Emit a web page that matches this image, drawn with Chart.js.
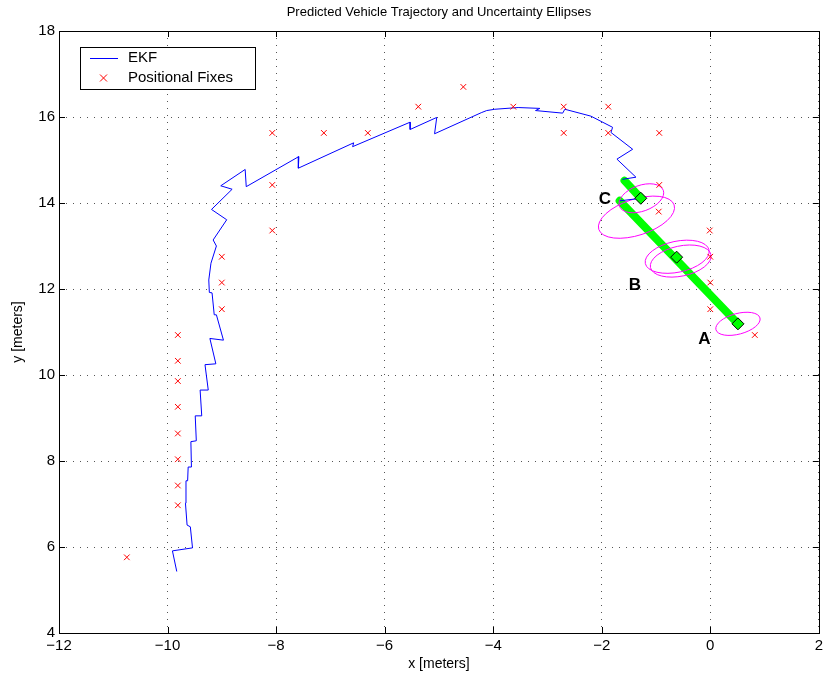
<!DOCTYPE html>
<html lang="en">
<head>
    <meta charset="UTF-8">
    <title>Predicted Vehicle Trajectory and Uncertainty Ellipses</title>
    <style>
        body {
            margin: 0;
            background: #fff;
        }
        #wrap {
            width: 827px;
            height: 682px;
        }
    </style>
    <script src="https://cdn.jsdelivr.net/npm/chart.js"></script>
</head>
<body>

<div id="wrap"><canvas id="trajChart"></canvas></div>

<script>
    // EKF track
    const ekfX = [-9.83, -9.91, -9.54, -9.58, -9.64, -9.67, -9.66, -9.63, -9.62, -9.56,
        -9.57, -9.47, -9.49, -9.37, -9.40, -9.25, -9.31, -9.11, -9.22, -8.97,
        -9.10, -9.14, -9.18, -9.23, -9.24, -9.20, -9.10, -9.16, -8.91, -9.19,
        -8.81, -9.02, -8.57, -8.55, -7.58, -7.59, -6.57, -6.59, -5.53, -5.53,
        -5.04, -5.08, -4.22, -4.12, -3.97, -3.54, -3.14, -3.22, -2.72, -2.68,
        -2.20, -1.80, -1.83, -1.43, -1.72, -1.37, -1.62];
    const ekfY = [5.43, 5.91, 5.98, 6.47, 6.51, 7.02, 7.54, 7.54, 7.86, 7.86,
        8.45, 8.47, 9.05, 9.05, 9.65, 9.65, 10.24, 10.26, 10.85, 10.81,
        11.40, 11.40, 11.91, 11.92, 12.21, 12.60, 13.00, 13.14, 13.61, 13.85,
        14.32, 14.40, 14.78, 14.38, 15.08, 14.81, 15.40, 15.31, 15.88, 15.71,
        15.99, 15.61, 16.10, 16.15, 16.18, 16.22, 16.20, 16.15, 16.09, 16.18,
        16.02, 15.76, 15.64, 15.25, 15.02, 14.60, 14.55];

    // positional fixes
    const fixX = [-10.75, -9.81, -9.81, -9.81, -9.81, -9.81, -9.81, -9.81, -9.81,
        -9.00, -9.00, -9.00, -8.07, -8.07, -8.07, -7.12, -6.31, -5.38, -4.55,
        -3.63, -2.70, -2.70, -1.88, -1.88, -0.94, -0.94, -0.95, -0.01, 0.00,
        0.00, 0.00, 0.82];
    const fixY = [5.76, 6.97, 7.43, 8.04, 8.64, 9.26, 9.86, 10.33, 10.93,
        11.53, 12.15, 12.75, 13.36, 14.42, 15.63, 15.63, 15.63, 16.24, 16.70,
        16.24, 16.24, 15.63, 16.24, 15.63, 15.63, 14.42, 13.80, 13.36, 12.75,
        12.15, 11.53, 10.93];

    // predicted path (green) and the prediction points A, B, C
    const predX = [-1.67, 0.51];
    const predY = [14.05, 11.19];
    const predShortX = [-1.58, -1.28];
    const predShortY = [14.52, 14.11];
    const linkX = [-1.67, -1.28];
    const linkY = [14.05, 14.11];
    const markNames = ['A', 'B', 'C'];
    const markX = [0.51, -0.62, -1.28];
    const markY = [11.19, 12.74, 14.11];
    const markLabelX = [-0.11, -1.39, -1.94];
    const markLabelY = [10.84, 12.09, 14.09];

    // uncertainty ellipses: centre, semi axes (x units / y units), tilt in degrees
    const ellCx = [0.51, -0.61, -0.545, -1.27, -1.36];
    const ellCy = [11.19, 12.75, 12.65, 14.11, 13.67];
    const ellRx = [0.42, 0.60, 0.57, 0.43, 0.73];
    const ellRy = [0.24, 0.36, 0.35, 0.30, 0.42];
    const ellTilt = [-15, -12, -12, -20, -18];

    const xTicks = [-12, -10, -8, -6, -4, -2, 0, 2];
    const yTicks = [4, 6, 8, 10, 12, 14, 16, 18];

    const toPts = (xs, ys) => xs.map((x, i) => ({x: x, y: ys[i]}));
    const minus = v => (v < 0 ? '\u2212' + Math.abs(v) : String(v));
    const FONT = "'Liberation Sans', Arial, sans-serif";

    // ellipses go in right after the green prediction line
    const ellipsePlugin = {
        id: 'ellipses',
        afterDatasetDraw(chart, args) {
            if (args.meta.label !== 'pred') return;
            const ctx = chart.ctx, xs = chart.scales.x, ys = chart.scales.y;
            const pxX = xs.getPixelForValue(1) - xs.getPixelForValue(0);
            const pxY = ys.getPixelForValue(0) - ys.getPixelForValue(1);
            ctx.save();
            ctx.strokeStyle = '#ff00ff';
            ctx.lineWidth = 1;
            for (let i = 0; i < ellCx.length; i++) {
                ctx.beginPath();
                ctx.ellipse(xs.getPixelForValue(ellCx[i]), ys.getPixelForValue(ellCy[i]),
                    ellRx[i] * pxX, ellRy[i] * pxY, ellTilt[i] * Math.PI / 180, 0, Math.PI * 2);
                ctx.stroke();
            }
            ctx.restore();
        }
    };

    // matlab style frame, inward ticks, title, point labels and legend
    const framePlugin = {
        id: 'frame',
        afterDraw(chart) {
            const ctx = chart.ctx, a = chart.chartArea;
            const xs = chart.scales.x, ys = chart.scales.y;
            ctx.save();
            ctx.strokeStyle = '#000';
            ctx.lineWidth = 1;
            ctx.beginPath();
            xTicks.forEach(v => {
                const p = Math.round(xs.getPixelForValue(v)) + 0.5;
                ctx.moveTo(p, a.bottom); ctx.lineTo(p, a.bottom - 6);
                ctx.moveTo(p, a.top); ctx.lineTo(p, a.top + 6);
            });
            yTicks.forEach(v => {
                const p = Math.round(ys.getPixelForValue(v)) + 0.5;
                ctx.moveTo(a.left, p); ctx.lineTo(a.left + 6, p);
                ctx.moveTo(a.right, p); ctx.lineTo(a.right - 6, p);
            });
            ctx.stroke();
            ctx.strokeRect(Math.round(a.left) + 0.5, Math.round(a.top) + 0.5,
                Math.round(a.right - a.left), Math.round(a.bottom - a.top));

            ctx.fillStyle = '#000';
            ctx.textAlign = 'center';
            ctx.textBaseline = 'middle';
            ctx.font = '13px ' + FONT;
            ctx.fillText('Predicted Vehicle Trajectory and Uncertainty Ellipses', (a.left + a.right) / 2, 12);

            ctx.font = 'bold 17px ' + FONT;
            markNames.forEach((t, i) => {
                ctx.fillText(t, xs.getPixelForValue(markLabelX[i]), ys.getPixelForValue(markLabelY[i]));
            });

            // legend
            const lx = a.left + 21, ly = a.top + 16;
            ctx.fillStyle = '#fff';
            ctx.fillRect(lx, ly, 175, 42);
            ctx.strokeStyle = '#000';
            ctx.strokeRect(lx + 0.5, ly + 0.5, 175, 42);
            ctx.strokeStyle = '#0000ff';
            ctx.beginPath();
            ctx.moveTo(lx + 10, ly + 11.5); ctx.lineTo(lx + 38, ly + 11.5);
            ctx.stroke();
            ctx.strokeStyle = '#ff0000';
            ctx.beginPath();
            const mx = lx + 23.5, my = ly + 31;
            ctx.moveTo(mx - 3.5, my - 3.5); ctx.lineTo(mx + 3.5, my + 3.5);
            ctx.moveTo(mx - 3.5, my + 3.5); ctx.lineTo(mx + 3.5, my - 3.5);
            ctx.stroke();
            ctx.fillStyle = '#000';
            ctx.textAlign = 'left';
            ctx.font = '15px ' + FONT;
            ctx.fillText('EKF', lx + 48, ly + 11);
            ctx.fillText('Positional Fixes', lx + 48, ly + 31);
            ctx.restore();
        }
    };

    const ctx = document.getElementById('trajChart').getContext('2d');
    const trajChart = new Chart(ctx, {
        type: 'scatter',
        data: {
            datasets: [
                {
                    label: 'marks',
                    data: toPts(markX, markY),
                    pointStyle: 'rectRot',
                    pointRadius: 6,
                    backgroundColor: '#00ff00',
                    borderColor: '#000',
                    borderWidth: 1,
                    order: 0
                },
                {
                    label: 'Positional Fixes',
                    data: toPts(fixX, fixY),
                    pointStyle: 'crossRot',
                    pointRadius: 4,
                    borderColor: '#ff0000',
                    borderWidth: 1,
                    order: 1
                },
                {
                    label: 'EKF',
                    data: toPts(ekfX, ekfY),
                    showLine: true,
                    pointRadius: 0,
                    borderColor: '#0000ff',
                    borderWidth: 1,
                    order: 2
                },
                {
                    label: 'link',
                    data: toPts(linkX, linkY),
                    showLine: true,
                    pointRadius: 0,
                    borderColor: '#0000ff',
                    borderWidth: 1,
                    order: 2
                },
                {
                    label: 'pred',
                    data: toPts(predX, predY),
                    showLine: true,
                    pointRadius: 0,
                    borderColor: '#00ff00',
                    borderWidth: 8,
                    borderCapStyle: 'round',
                    order: 3
                },
                {
                    label: 'predShort',
                    data: toPts(predShortX, predShortY),
                    showLine: true,
                    pointRadius: 0,
                    borderColor: '#00ff00',
                    borderWidth: 8,
                    borderCapStyle: 'round',
                    order: 4
                }
            ]
        },
        options: {
            responsive: true,
            maintainAspectRatio: false,
            animation: false,
            layout: {
                padding: {top: 31, right: 5, left: 0, bottom: 0}
            },
            plugins: {
                legend: {display: false},
                tooltip: {enabled: false}
            },
            scales: {
                x: {
                    type: 'linear',
                    min: -12,
                    max: 2,
                    afterBuildTicks: s => { s.ticks = xTicks.map(v => ({value: v})); },
                    afterFit: s => { s.height = 49; },
                    ticks: {
                        color: '#000',
                        padding: 4,
                        font: {family: FONT, size: 15},
                        callback: v => minus(v)
                    },
                    grid: {color: '#555', drawTicks: false, lineWidth: 1},
                    border: {display: false, dash: [1, 6]},
                    title: {
                        display: true,
                        text: 'x [meters]',
                        color: '#000',
                        font: {family: FONT, size: 14},
                        padding: {top: 0, bottom: 9}
                    }
                },
                y: {
                    type: 'linear',
                    min: 4,
                    max: 18,
                    afterBuildTicks: s => { s.ticks = yTicks.map(v => ({value: v})); },
                    afterFit: s => { s.width = 59; },
                    ticks: {
                        color: '#000',
                        padding: 4,
                        font: {family: FONT, size: 15},
                        callback: v => minus(v)
                    },
                    grid: {color: '#555', drawTicks: false, lineWidth: 1},
                    border: {display: false, dash: [1, 6]},
                    title: {
                        display: true,
                        text: 'y [meters]',
                        color: '#000',
                        font: {family: FONT, size: 14},
                        padding: {top: 10, bottom: 0}
                    }
                }
            }
        },
        plugins: [ellipsePlugin, framePlugin]
    });
</script>

</body>
</html>
